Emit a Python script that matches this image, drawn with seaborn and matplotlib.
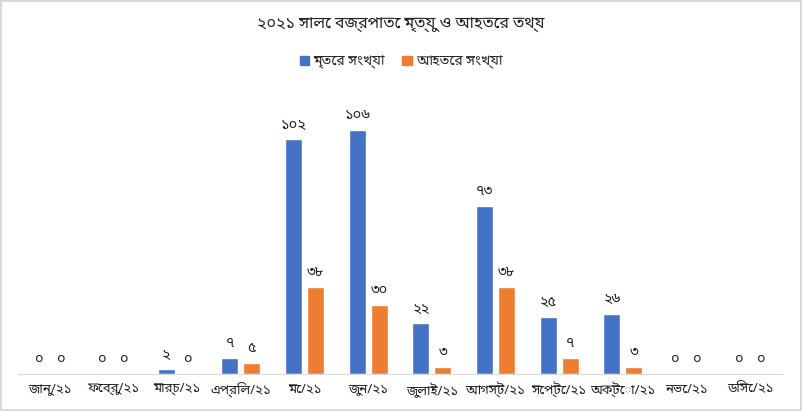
import pandas as pd
import numpy as np
import seaborn as sns
import matplotlib.pyplot as plt

# Data
months = ['জানু/২১', 'ফেব্রু/২১', 'মার্চ/২১', 'এপ্রিল/২১', 'মে/২১', 'জুন/২১',
          'জুলাই/২১', 'আগস্ট/২১', 'সেপ্টে/২১', 'অক্টো/২১', 'নভে/২১', 'ডিসে/২১']
deaths = [0, 0, 2, 7, 102, 106, 22, 73, 25, 26, 0, 0]
injured = [0, 0, 0, 5, 38, 30, 3, 38, 7, 3, 0, 0]
series_names = ['মৃতের সংখ্যা', 'আহতের সংখ্যা']
title = '২০২১ সালে বজ্রপাতে মৃত্যু ও আহতের তথ্য'
colors = ['#4472C4', '#ED7D31']

sns.set_style('white')
plt.rcParams['font.family'] = ['Noto Sans Bengali', 'DejaVu Sans']

df = pd.DataFrame({
    'month': months * 2,
    'value': deaths + injured,
    'series': [series_names[0]] * 12 + [series_names[1]] * 12,
})

fig = plt.figure(figsize=(8.02, 4.11), dpi=100)
ax = fig.add_axes([18 / 802, 1 - 374 / 411, 764 / 802, 276 / 411])
sns.barplot(data=df, x='month', y='value', hue='series', order=months,
            palette=colors, width=0.69, gap=0.22,
            saturation=1, ax=ax, legend=False)

# Bengali digits for the data labels
def bn(n):
    return str(n).translate(str.maketrans('0123456789', '০১২৩৪৫৬৭৮৯'))

for cont in ax.containers:
    ax.bar_label(cont, labels=[bn(int(v)) for v in cont.datavalues],
                 padding=5, fontsize=10.5, color='#222222')

ax.set_ylim(0, 120)
ax.set_xlim(-0.5, 11.5)
ax.set_xlabel('')
ax.set_ylabel('')
ax.set_yticks([])
ax.tick_params(axis='x', length=0, labelsize=9.5, pad=6, labelcolor='#222222')
for s in ['top', 'right', 'left']:
    ax.spines[s].set_visible(False)
ax.spines['bottom'].set_color('#d9d9d9')

fig.text(0.5, 1 - 24 / 411, title, ha='center', va='center', fontsize=11.5,
         color='#222222')
handles = [plt.Rectangle((0, 0), 1, 1, color=c) for c in colors]
fig.legend(handles, series_names, loc='center', bbox_to_anchor=(0.5, 1 - 62 / 411),
           ncol=2, frameon=False, fontsize=10, handlelength=0.7, handleheight=0.7,
           columnspacing=1.2, handletextpad=0.3)

fig.patch.set_edgecolor('#d9d9d9')
fig.patch.set_linewidth(1.5)

fig.savefig('out.png', dpi=100)
